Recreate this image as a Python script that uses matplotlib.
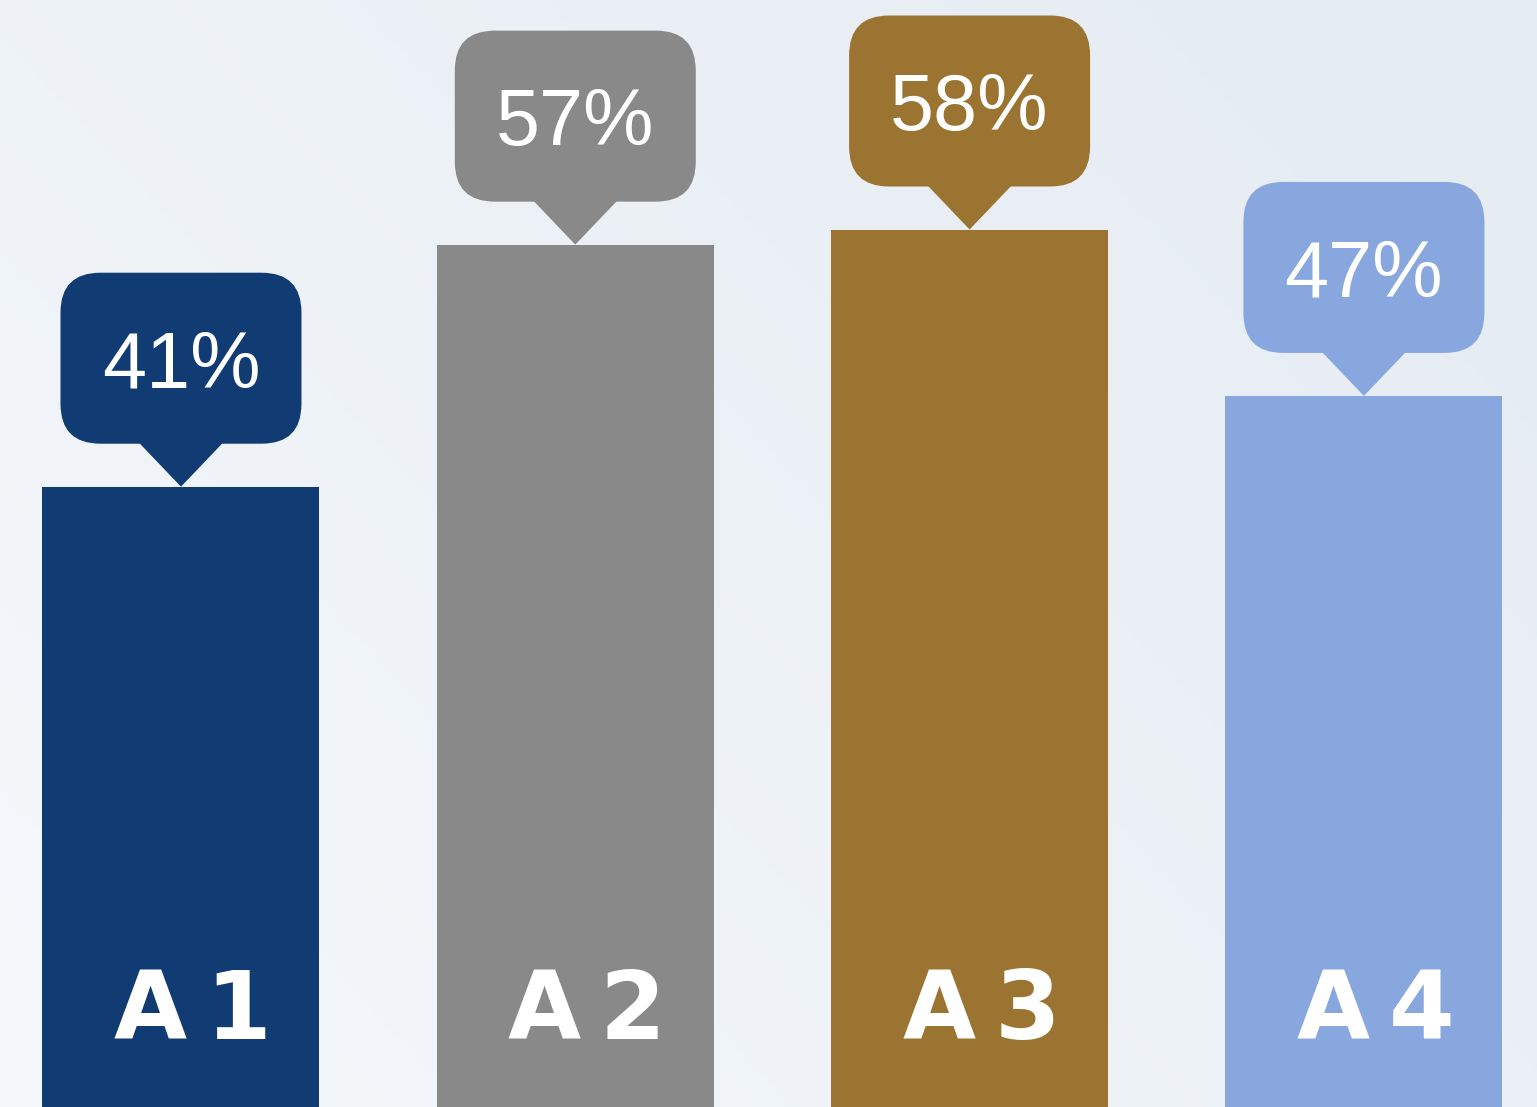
import numpy as np
import matplotlib
matplotlib.use("Agg")
import matplotlib.pyplot as plt
from matplotlib.patches import FancyBboxPatch, Polygon
from matplotlib.transforms import Affine2D, ScaledTranslation, offset_copy
from matplotlib.colors import LinearSegmentedColormap

categories = ["A\u20091", "A\u20092", "A\u20093", "A\u20094"]
values = [41, 57, 58, 47]
value_labels = ["41%", "57%", "58%", "47%"]
colors = ["#103c73", "#898989", "#9b7432", "#87a7de"]

DPI = 100
fig = plt.figure(figsize=(15.37, 11.07), dpi=DPI)

# background gradient
bg = fig.add_axes([0, 0, 1, 1], zorder=0)
gx, gy = np.meshgrid(np.linspace(0, 1, 300), np.linspace(0, 1, 300))
grad = 0.6 * gx + 0.4 * gy
cmap = LinearSegmentedColormap.from_list("bg", ["#f5f8fb", "#e4ebf2"])
bg.imshow(grad, cmap=cmap, origin="lower", extent=[0, 1, 0, 1], aspect="auto")
bg.axis("off")

ax = fig.add_axes([0, 0, 1, 1], zorder=1)
ax.patch.set_alpha(0)
x = np.arange(len(categories))
ax.bar(x, values, width=0.7025, color=colors, zorder=2)
ax.set_xlim(-0.459, 3.439)
ax.set_ylim(0, 73.17)
ax.axis("off")

fig.canvas.draw()

box_w, box_h, gap, rad, half = 241, 171, 43, 40, 42
for xi, v, lab, c in zip(x, values, value_labels, colors):
    tr = Affine2D() + ScaledTranslation(xi, v, ax.transData)
    box = FancyBboxPatch((-box_w / 2, gap), box_w, box_h,
                         boxstyle=f"round,pad=0,rounding_size={rad}",
                         facecolor=c, edgecolor="none", transform=tr, zorder=3)
    ax.add_patch(box)
    tri = Polygon([(-half, gap + 1), (half, gap + 1), (0, 0)], closed=True,
                  facecolor=c, edgecolor="none", transform=tr, zorder=3)
    ax.add_patch(tri)
    ax.text(0, gap + box_h / 2 - 29, lab, transform=tr, ha="center", va="baseline",
            color="white", fontsize=57, family=["Liberation Sans", "DejaVu Sans"], zorder=4)

for xi, cat in zip(x, categories):
    tr = offset_copy(ax.get_xaxis_transform(), fig=fig, x=12, y=0, units="dots")
    ax.text(xi, 68 / 1107, cat, transform=tr, ha="center", va="baseline",
            color="white", fontsize=68, fontweight="bold",
            family=["DejaVu Sans"], zorder=4)

fig.savefig("out.png", dpi=DPI)
